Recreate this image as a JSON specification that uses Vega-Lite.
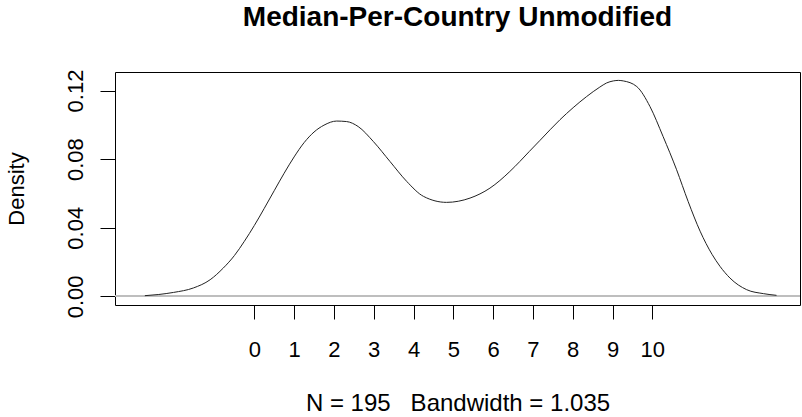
{
  "$schema": "https://vega.github.io/schema/vega-lite/v6.json",
  "autosize": "none",
  "width": 685,
  "height": 233,
  "padding": {"left": 115, "top": 72, "right": 2, "bottom": 112},
  "background": "white",
  "config": {
    "font": "Liberation Sans",
    "view": {"stroke": "black", "strokeWidth": 1}
  },
  "title": {
    "text": "Median-Per-Country Unmodified",
    "fontSize": 28,
    "fontWeight": "bold",
    "font": "Liberation Sans",
    "color": "black",
    "anchor": "middle",
    "baseline": "alphabetic",
    "offset": 15
  },
  "data": {
    "values": [
      {"x": -2.75, "d": 0.0004},
      {"x": -2.4, "d": 0.0011},
      {"x": -2.03, "d": 0.0023},
      {"x": -1.53, "d": 0.0049},
      {"x": -1.11, "d": 0.0097},
      {"x": -0.78, "d": 0.0165},
      {"x": -0.5, "d": 0.0238},
      {"x": -0.25, "d": 0.0321},
      {"x": 0.0, "d": 0.0413},
      {"x": 0.25, "d": 0.0513},
      {"x": 0.5, "d": 0.0616},
      {"x": 0.75, "d": 0.0718},
      {"x": 1.0, "d": 0.0813},
      {"x": 1.25, "d": 0.0896},
      {"x": 1.5, "d": 0.0958},
      {"x": 1.75, "d": 0.0998},
      {"x": 2.07, "d": 0.1022},
      {"x": 2.32, "d": 0.1019},
      {"x": 2.61, "d": 0.099},
      {"x": 2.99, "d": 0.0903},
      {"x": 3.41, "d": 0.0786},
      {"x": 3.83, "d": 0.067},
      {"x": 4.25, "d": 0.0583},
      {"x": 4.83, "d": 0.0548},
      {"x": 5.42, "d": 0.0573},
      {"x": 5.92, "d": 0.0631},
      {"x": 6.42, "d": 0.0728},
      {"x": 6.67, "d": 0.0786},
      {"x": 6.91, "d": 0.0845},
      {"x": 7.18, "d": 0.091},
      {"x": 7.68, "d": 0.103},
      {"x": 8.01, "d": 0.11},
      {"x": 8.35, "d": 0.1165},
      {"x": 8.68, "d": 0.122},
      {"x": 8.85, "d": 0.1244},
      {"x": 9.02, "d": 0.1256},
      {"x": 9.15, "d": 0.1259},
      {"x": 9.27, "d": 0.1256},
      {"x": 9.61, "d": 0.1223},
      {"x": 9.94, "d": 0.1107},
      {"x": 10.27, "d": 0.0932},
      {"x": 10.61, "d": 0.0738},
      {"x": 10.9, "d": 0.0553},
      {"x": 11.2, "d": 0.038},
      {"x": 11.5, "d": 0.0245},
      {"x": 11.7, "d": 0.0175},
      {"x": 11.95, "d": 0.0107},
      {"x": 12.37, "d": 0.0039},
      {"x": 12.79, "d": 0.0016},
      {"x": 13.12, "d": 0.0006}
    ]
  },
  "layer": [
    {
      "mark": {"type": "rule", "color": "#bebebe", "strokeWidth": 1},
      "encoding": {"y": {"datum": 0, "type": "quantitative"}}
    },
    {
      "mark": {"type": "line", "color": "#222222", "strokeWidth": 1, "interpolate": "monotone"},
      "encoding": {
        "x": {
          "field": "x",
          "type": "quantitative",
          "scale": {"domain": [-3.5, 13.71], "nice": false, "zero": false},
          "axis": {
            "values": [0, 1, 2, 3, 4, 5, 6, 7, 8, 9, 10],
            "domain": false,
            "grid": false,
            "tickColor": "black",
            "tickSize": 14,
            "tickWidth": 1,
            "labelFontSize": 22,
            "labelColor": "black",
            "labelBaseline": "alphabetic",
            "labelPadding": 37,
            "labelFlush": false,
            "labelOverlap": false,
            "title": "N = 195\u00a0\u00a0\u00a0Bandwidth = 1.035",
            "titleFontSize": 24,
            "titleFontWeight": "normal",
            "titleColor": "black",
            "titleBaseline": "alphabetic",
            "titleY": 105
          }
        },
        "y": {
          "field": "d",
          "type": "quantitative",
          "scale": {"domain": [-0.00503, 0.1308], "nice": false, "zero": false},
          "axis": {
            "values": [0, 0.02, 0.04, 0.06, 0.08, 0.1, 0.12],
            "labelExpr": "indexof(['0.00','0.04','0.08','0.12'], format(datum.value, '.2f')) >= 0 ? format(datum.value, '.2f') : ''",
            "domain": false,
            "grid": false,
            "tickColor": "black",
            "tickSize": 15,
            "tickWidth": 1,
            "labelFontSize": 22,
            "labelColor": "black",
            "labelAngle": -90,
            "labelAlign": "center",
            "labelBaseline": "alphabetic",
            "labelPadding": 18,
            "labelFlush": false,
            "labelOverlap": false,
            "title": "Density",
            "titleFontSize": 22,
            "titleFontWeight": "normal",
            "titleColor": "black",
            "titleAngle": -90,
            "titleBaseline": "alphabetic",
            "titleX": -92
          }
        }
      }
    }
  ]
}
